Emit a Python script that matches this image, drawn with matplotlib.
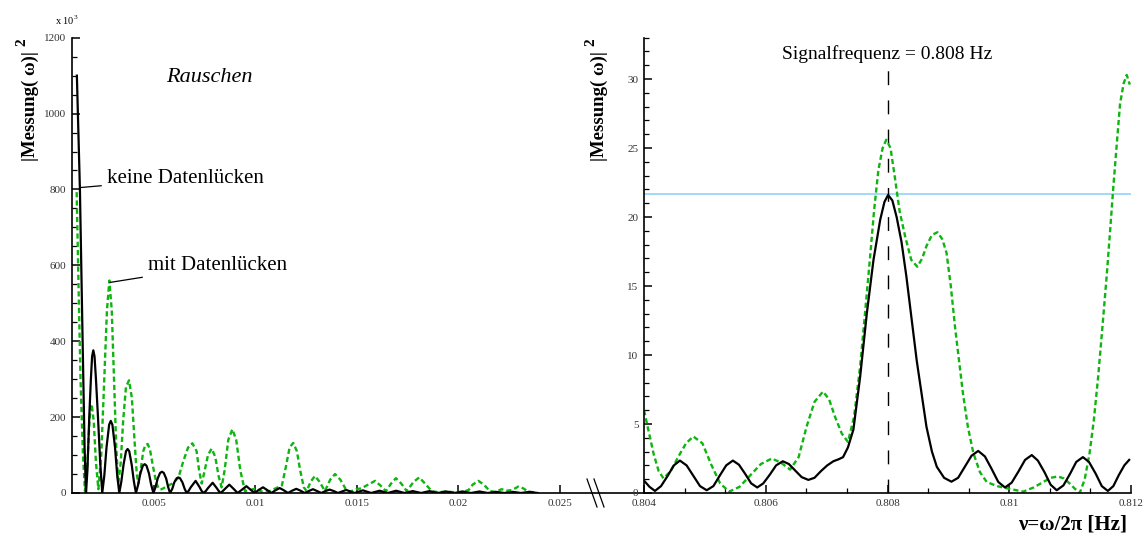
import matplotlib
matplotlib.use("Agg")
import matplotlib.pyplot as plt
from matplotlib.lines import Line2D
from matplotlib.ticker import MultipleLocator, FixedLocator, FuncFormatter, AutoMinorLocator

plt.rcParams['font.family'] = ['Liberation Serif', 'DejaVu Serif']
plt.rcParams['mathtext.fontset'] = 'custom'
plt.rcParams['mathtext.rm'] = 'Liberation Serif'

# --- noise spectrum (values in units of 10^3) ---
noise_f_clean = [0.00120, 0.00135, 0.00149, 0.00158, 0.00165,
                 0.00172, 0.00181, 0.00189, 0.00195, 0.00201, 0.00207, 0.00214, 0.00224, 0.00235, 0.00245,
                 0.00255, 0.00266, 0.00279, 0.00287, 0.00295, 0.00308, 0.00319, 0.00329,
                 0.00339, 0.00350, 0.00362, 0.00370, 0.00378, 0.00390, 0.00401, 0.00411,
                 0.00422, 0.00433, 0.00445, 0.00454, 0.00463, 0.00475, 0.00486, 0.00497,
                 0.00508, 0.00518, 0.00530, 0.00539, 0.00548, 0.00560, 0.00570, 0.00579,
                 0.00590, 0.00600, 0.00612, 0.00620, 0.00628, 0.00640, 0.00651, 0.00661,
                 0.00671, 0.00681, 0.00705, 0.00725, 0.00734, 0.00743,
                 0.00755, 0.00766, 0.00789, 0.00809, 0.00819, 0.00829,
                 0.00850, 0.00871, 0.00892, 0.00912,
                 0.00934, 0.00955, 0.00975, 0.00996,
                 0.01016, 0.01037, 0.01057, 0.01078,
                 0.01098, 0.01119, 0.01140, 0.01160,
                 0.01180, 0.01201, 0.01222, 0.01242,
                 0.01262, 0.01283, 0.01304, 0.01324,
                 0.01344, 0.01365, 0.01386, 0.01406,
                 0.01447, 0.01488, 0.01529, 0.01570, 0.01611, 0.01652, 0.01693, 0.01734,
                 0.01775, 0.01816, 0.01857, 0.01898, 0.01939, 0.01980, 0.02021, 0.02062,
                 0.02103, 0.02144, 0.02185, 0.02226, 0.02267, 0.02308, 0.02349, 0.02390]
noise_p_clean = [1100, 800, 380, 120, 0,
                 60, 200, 300, 360, 376, 360, 300, 200, 80, 0,
                 45, 120, 180, 190, 180, 120, 45, 0,
                 30, 75, 110, 116, 110, 75, 30, 0,
                 22, 52, 72, 76, 72, 52, 22, 0,
                 16, 38, 53, 56, 53, 38, 15, 0,
                 11, 28, 39, 41, 39, 28, 11, 0,
                 6, 15, 32, 15, 6, 0,
                 5, 13, 27, 13, 5, 0,
                 11, 22, 11, 0,
                 9, 18, 9, 0,
                 8, 15, 8, 0,
                 7, 13, 7, 0,
                 6, 11, 6, 0,
                 5, 10, 5, 0,
                 5, 9, 5, 0,
                 8, 0, 7, 0, 6, 0, 6, 0,
                 5, 0, 5, 0, 4, 0, 4, 0,
                 4, 0, 3, 0, 3, 0, 3, 0]

noise_f_gaps = [0.00119, 0.00128, 0.00138, 0.00150, 0.00160,
                0.00172, 0.00183, 0.00193, 0.00203, 0.00214, 0.00226,
                0.00240, 0.00255, 0.00268, 0.00280, 0.00292, 0.00303, 0.00314, 0.00324,
                0.00336, 0.00348, 0.00362, 0.00377, 0.00391, 0.00405, 0.00415, 0.00423,
                0.00434, 0.00447, 0.00458, 0.00469, 0.00480, 0.00495, 0.00512, 0.00525, 0.00538,
                0.00555, 0.00590, 0.00620, 0.00645, 0.00668, 0.00689, 0.00710, 0.00722, 0.00735,
                0.00748, 0.00766, 0.00784, 0.00802, 0.00818, 0.00833,
                0.00848, 0.00866, 0.00886, 0.00905, 0.00925, 0.00948,
                0.00975, 0.01000, 0.01030, 0.01070, 0.01090,
                0.01130, 0.01150, 0.01168, 0.01186, 0.01204, 0.01220, 0.01238, 0.01252,
                0.01272, 0.01293, 0.01315, 0.01342,
                0.01368, 0.01392, 0.01418, 0.01445, 0.01465, 0.01495, 0.01520,
                0.01555, 0.01589, 0.01615, 0.01643,
                0.01668, 0.01692, 0.01718, 0.01745,
                0.01780, 0.01807, 0.01835, 0.01868,
                0.01900, 0.01940, 0.01980, 0.02020, 0.02050, 0.02070, 0.02098, 0.02125, 0.02155,
                0.02180, 0.02213, 0.02240, 0.02265, 0.02295, 0.02320, 0.02345, 0.02377]
noise_p_gaps = [793, 550, 300, 100, 5,
                80, 200, 234, 190, 80, 10,
                100, 300, 480, 560, 480, 300, 120, 25,
                80, 190, 280, 297, 250, 130, 50, 25,
                60, 110, 127, 129, 115, 70, 25, 10, 10,
                15, 25, 40, 85, 120, 131, 110, 60, 25,
                55, 100, 117, 95, 45, 15,
                60, 140, 168, 140, 60, 5,
                8, 12, 4, 5, 10,
                20, 70, 120, 132, 110, 60, 15, 5,
                30, 45, 30, 5,
                35, 50, 35, 10, 3, 10, 12,
                22, 32, 20, 5,
                25, 39, 25, 5,
                30, 41, 25, 5,
                2, 4, 2, 3, 8, 22, 32, 22, 5,
                3, 10, 6, 8, 17, 12, 3, 2]

# --- spectrum around the signal frequency ---
sig_f_clean = [0.80400, 0.80409, 0.80418, 0.80428, 0.80439, 0.80449, 0.80459,
               0.80470, 0.80481, 0.80492, 0.80503, 0.80514, 0.80525, 0.80535, 0.80546,
               0.80556, 0.80566, 0.80576, 0.80586, 0.80596, 0.80607, 0.80617, 0.80628,
               0.80638, 0.80649, 0.80659, 0.80670, 0.80680, 0.80691, 0.80701, 0.80711,
               0.80720, 0.80727, 0.80735, 0.80744, 0.80755, 0.80766, 0.80777, 0.80788,
               0.80795, 0.80801, 0.80808, 0.80815, 0.80823, 0.80831, 0.80848, 0.80864,
               0.80873, 0.80881, 0.80893, 0.80905, 0.80916, 0.80927, 0.80938, 0.80949,
               0.80960, 0.80971, 0.80982, 0.80993, 0.81004, 0.81015, 0.81026, 0.81037,
               0.81047, 0.81058, 0.81068, 0.81078, 0.81089, 0.81100, 0.81110, 0.81121,
               0.81131, 0.81142, 0.81152, 0.81162, 0.81171, 0.81180, 0.81189, 0.81197]
sig_p_clean = [0.9, 0.45, 0.15, 0.5, 1.25, 2.0, 2.35,
               2.0, 1.25, 0.5, 0.2, 0.5, 1.3, 2.0, 2.35,
               2.05, 1.4, 0.7, 0.4, 0.7, 1.35, 2.0, 2.3,
               2.1, 1.6, 1.15, 0.95, 1.1, 1.6, 2.0, 2.3,
               2.45, 2.6, 3.3, 4.6, 8.4, 13.0, 16.9, 19.8,
               21.1, 21.6, 21.2, 20.0, 18.2, 15.7, 9.6, 4.8,
               3.0, 1.9, 1.1, 0.82, 1.1, 1.9, 2.7, 3.05,
               2.65, 1.75, 0.8, 0.4, 0.75, 1.55, 2.4, 2.75,
               2.35, 1.5, 0.6, 0.2, 0.55, 1.4, 2.25, 2.6,
               2.25, 1.4, 0.5, 0.15, 0.5, 1.3, 2.0, 2.4]

sig_f_gaps = [0.80400, 0.80408, 0.80416, 0.80424, 0.80432, 0.80444, 0.80456, 0.80469, 0.80481,
              0.80496, 0.80510, 0.80525, 0.80540, 0.80557, 0.80575, 0.80592, 0.80610,
              0.80625, 0.80640, 0.80654, 0.80667, 0.80680, 0.80694,
              0.80704, 0.80714, 0.80725, 0.80735, 0.80745, 0.80755, 0.80763, 0.80771, 0.80778,
              0.80785, 0.80792, 0.80798, 0.80805, 0.80812, 0.80820, 0.80829, 0.80839, 0.80849,
              0.80857, 0.80864, 0.80873, 0.80882, 0.80890, 0.80897, 0.80904, 0.80911, 0.80924,
              0.80932, 0.80941, 0.80952, 0.80963, 0.80980, 0.80996, 0.81023, 0.81040, 0.81056,
              0.81068, 0.81080, 0.81090, 0.81099, 0.81108, 0.81116, 0.81124, 0.81132, 0.81139,
              0.81146, 0.81153, 0.81160, 0.81166, 0.81171, 0.81177, 0.81182, 0.81188, 0.81193,
              0.81198]
sig_p_gaps = [6.0, 4.4, 2.8, 1.6, 1.06, 1.6, 2.6, 3.6, 4.1,
              3.6, 2.1, 0.7, 0.1, 0.45, 1.3, 2.1, 2.5,
              2.2, 1.7, 2.6, 4.8, 6.6, 7.35,
              6.8, 5.5, 4.3, 3.7, 5.5, 9.15, 13.0, 16.9, 20.5,
              23.4, 25.0, 25.6, 25.0, 22.9, 20.4, 18.6, 16.9, 16.4,
              17.0, 17.9, 18.7, 18.9, 18.4, 17.4, 15.0, 12.0, 7.2,
              4.8, 2.9, 1.5, 0.8, 0.5, 0.34, 0.1, 0.4, 0.8,
              1.1, 1.2, 1.05, 0.7, 0.3, 0.02, 1.0, 2.9, 5.3,
              8.4, 12.0, 15.7, 19.2, 22.2, 25.5, 28.2, 29.7, 30.3,
              29.6]

signal_freq = 0.808
signal_level = 21.65

W, H = 1144, 536
fig = plt.figure(figsize=(W / 100, H / 100), dpi=100)

black = 'black'
green = '#10b410'
tick_col = '#333333'


def style_axes(ax):
    for side in ('top', 'right'):
        ax.spines[side].set_visible(False)
    for side in ('left', 'bottom'):
        ax.spines[side].set_linewidth(1.2)
    ax.tick_params(which='both', direction='in', labelsize=8, labelcolor=tick_col, pad=4)
    ax.tick_params(which='major', length=6, width=1.1)
    ax.tick_params(which='minor', length=3.5, width=0.9)


# left panel: noise
axl = fig.add_axes([72 / W, 43 / H, 572 / W, 455.3 / H])
style_axes(axl)
axl.plot(noise_f_gaps, noise_p_gaps, color=green, lw=1.7, dashes=(2.2, 1.3))
axl.plot(noise_f_clean, noise_p_clean, color=black, lw=1.6)
axl.set_xlim(0.00096, 0.02914)
axl.set_ylim(0, 1200)
axl.xaxis.set_major_locator(FixedLocator([0.005, 0.01, 0.015, 0.02, 0.025]))
axl.xaxis.set_major_formatter(FuncFormatter(lambda v, p: '%g' % v))
axl.yaxis.set_major_locator(MultipleLocator(200))
axl.yaxis.set_minor_locator(MultipleLocator(50))

axl.text(0.00771, 1095, 'Rauschen', fontsize=16, style='italic', ha='center', va='center')
axl.annotate('keine Datenlücken', xy=(0.001355, 805), xytext=(0.00268, 829),
             fontsize=15, va='center', ha='left',
             arrowprops=dict(arrowstyle='-', color='black', lw=0.9, shrinkA=2, shrinkB=0))
axl.annotate('mit Datenlücken', xy=(0.00283, 555), xytext=(0.0047, 600),
             fontsize=15, va='center', ha='left',
             arrowprops=dict(arrowstyle='-', color='black', lw=0.9, shrinkA=2, shrinkB=0))

# right panel: zoom on the signal
axr = fig.add_axes([644 / W, 43 / H, 487 / W, 455.3 / H])
style_axes(axr)
axr.axhline(signal_level, color='#87cefa', lw=1.1, zorder=1)
axr.plot([signal_freq, signal_freq], [0, 30.9], color='black', lw=1.0, dashes=(10, 11))
axr.plot(sig_f_gaps, sig_p_gaps, color=green, lw=1.7, dashes=(2.2, 1.3))
axr.plot(sig_f_clean, sig_p_clean, color=black, lw=1.6)
axr.set_xlim(0.804, 0.812)
axr.set_ylim(0, 33)
axr.xaxis.set_major_locator(MultipleLocator(0.002))
axr.xaxis.set_minor_locator(AutoMinorLocator(3))
axr.xaxis.set_major_formatter(FuncFormatter(lambda v, p: '%g' % round(v, 4)))
axr.yaxis.set_major_locator(MultipleLocator(5))
axr.yaxis.set_minor_locator(MultipleLocator(1))
axr.text(signal_freq, 31.8, 'Signalfrequenz = %g Hz' % signal_freq, fontsize=14,
         ha='center', va='center')

# axis labels: |Messung(w)|^2 with a bold raised exponent
for xc in (30, 599):
    fig.text(xc / W, 1 - 51 / H, '|Messung( ω)|', rotation=90, fontsize=13.5,
             fontweight='bold', ha='center', va='top')
    fig.text((xc - 8) / W, 1 - 38 / H, '2', rotation=90, fontsize=11,
             fontweight='bold', ha='center', va='top')
fig.text(1127 / W, 1 - 525 / H, 'ν=ω/2π [Hz]', fontsize=15, fontweight='bold',
         ha='right', va='center')
fig.text(55 / W, 1 - 20 / H, r'x 10$^{3}$', fontsize=7.5, ha='left', va='center')

# axis break marks between the panels
for x0 in (587, 594):
    fig.add_artist(Line2D([x0 / W, (x0 + 10) / W], [1 - 479 / H, 1 - 507 / H],
                          color='black', lw=0.9, transform=fig.transFigure))

fig.savefig('out.png', dpi=100, facecolor='white')
